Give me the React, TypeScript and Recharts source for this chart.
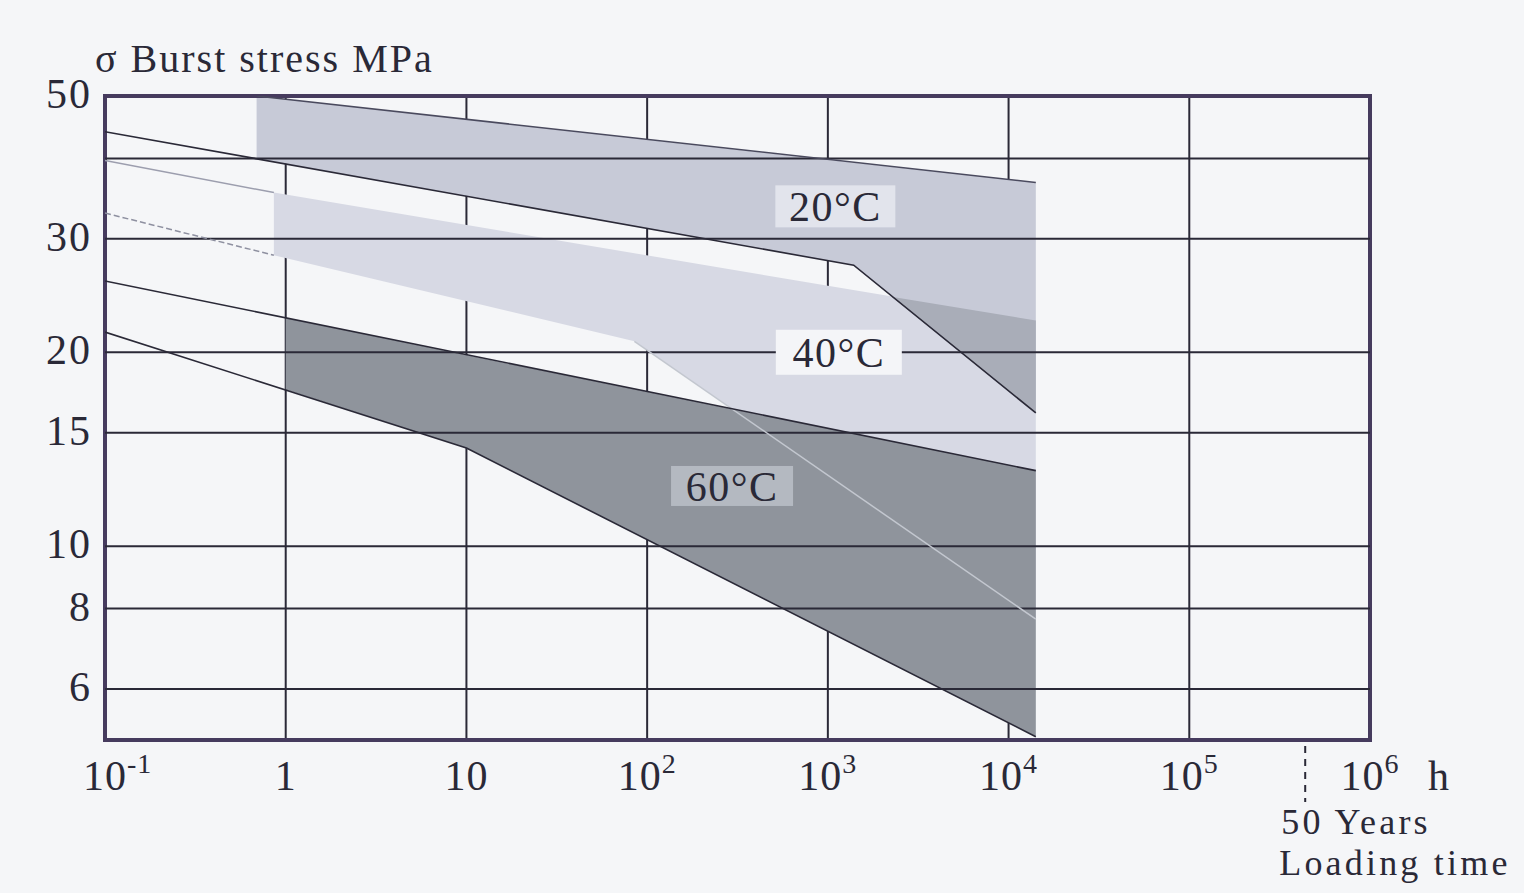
import React from 'react';
import {
  ComposedChart,
  Area,
  Line,
  XAxis,
  YAxis,
  CartesianGrid,
  ReferenceLine,
  ReferenceArea,
  ReferenceDot,
} from 'recharts';

// ---------- axes ----------
const xTicks = [0.1, 1, 10, 100, 1000, 10000, 100000, 438000, 1000000];
const xTickBase = ['10', '1', '10', '10', '10', '10', '10', '', '10'];
const xTickSup = ['-1', '', '', '2', '3', '4', '5', '', '6'];
const xUnit = 'h';
const fiftyYears = 438000;
const fiftyYearsText = ['50 Years', 'Loading time'];
const yTicks = [6, 8, 10, 15, 20, 30, 40, 50];
const yTickLabels = ['6', '8', '10', '15', '20', '30', '', '50'];
const verticalGrid = [1, 10, 100, 1000, 10000, 100000];
const horizontalGrid = [6, 8, 10, 15, 20, 30, 40];
const yTitle = 'σ Burst stress MPa';

// ---------- bands (loading time h, burst stress MPa) ----------
const band20T = [0.69, 1390, 14150];
const band20High = [50, 39.4, 36.7];
const band20Low = [40, 27.3, 16.1];

const band40T = [0.86, 85, 14150];
const band40High = [35.4, 28.5, 22.4];
const band40Low = [28.3, 20.8, 7.7];

const band60T = [1, 10, 14150];
const band60High = [22.6, 19.8, 13.1];
const band60Low = [17.5, 14.2, 5.06];

const overlapT = [2250, 14150];
const overlapHigh = [24.4, 22.4];
const overlapLow = [24.4, 16.1];

// ---------- edge lines ----------
const line20TopT = [0.69, 14150];
const line20TopV = [50, 36.7];
const line20BottomT = [0.1, 1390, 14150];
const line20BottomV = [44, 27.3, 16.1];
const ext40TopT = [0.1, 0.86];
const ext40TopV = [39.7, 35.4];
const ext40BottomT = [0.1, 0.86];
const ext40BottomV = [32.9, 28.3];
const line40SteepT = [85, 14150];
const line40SteepV = [20.8, 7.7];
const line60TopT = [0.1, 14150];
const line60TopV = [25.8, 13.1];
const line60BottomT = [0.1, 10, 14150];
const line60BottomV = [21.5, 14.2, 5.06];

// ---------- band labels ----------
const labelText = ['20°C', '40°C', '60°C'];
const labelT = [1100, 1150, 295];
const labelV = [33.7, 20.0, 12.4];

// ---------- styles ----------
const BG = '#f5f6f8';
const INK = '#2a2937';
const FRAME = '#463b5e';
const C20 = '#c7cad7';
const C40 = '#d7d9e4';
const COVER = '#a9adb8';
const C60 = '#8f949c';
const BOX_FILL = ['#e2e4ec', '#f4f5f8', '#b4b9c1'];
const BOX_W = [120, 126, 122];
const BOX_H = [42, 45, 40];
const FONT = '"Liberation Serif", "DejaVu Serif", serif';
const TICK_SIZE = 42;
const SUP_SIZE = 28;

const toBand = (t: number[], lo: number[], hi: number[]) =>
  t.map((v, i) => ({ t: v, range: [lo[i], hi[i]] }));
const toLine = (t: number[], v: number[]) => t.map((x, i) => ({ t: x, v: v[i] }));

const band20 = toBand(band20T, band20Low, band20High);
const band40 = toBand(band40T, band40Low, band40High);
const band60 = toBand(band60T, band60Low, band60High);
const overlap = toBand(overlapT, overlapLow, overlapHigh);

const line20Top = toLine(line20TopT, line20TopV);
const line20Bottom = toLine(line20BottomT, line20BottomV);
const ext40Top = toLine(ext40TopT, ext40TopV);
const ext40Bottom = toLine(ext40BottomT, ext40BottomV);
const line40Steep = toLine(line40SteepT, line40SteepV);
const line60Top = toLine(line60TopT, line60TopV);
const line60Bottom = toLine(line60BottomT, line60BottomV);

const XTick = (props: any) => {
  const { x, y, payload } = props;
  const i = xTicks.indexOf(payload.value);
  if (i < 0) return null;
  if (payload.value === fiftyYears) {
    return (
      <g>
        <line x1={x} x2={x} y1={y + 6} y2={y + 62} stroke={INK} strokeWidth={2} strokeDasharray="7 6" />
        <text x={x - 24} y={y + 94} fontFamily={FONT} fontSize={36} letterSpacing={3.2} fill={INK}>
          {fiftyYearsText[0]}
        </text>
        <text x={x - 26} y={y + 135} fontFamily={FONT} fontSize={36} letterSpacing={3.2} fill={INK}>
          {fiftyYearsText[1]}
        </text>
      </g>
    );
  }
  const first = i === 0;
  const sup = xTickSup[i];
  return (
    <g>
      <text
        x={first ? x - 22 : x}
        y={y + 50}
        textAnchor={first ? 'start' : 'middle'}
        fontFamily={FONT}
        fontSize={TICK_SIZE}
        letterSpacing={1}
        fill={INK}
      >
        <tspan>{xTickBase[i]}</tspan>
        {sup ? (
          <tspan dy={-17} fontSize={SUP_SIZE}>
            {sup}
          </tspan>
        ) : null}
      </text>
      {payload.value === 1000000 ? (
        <text x={x + 58} y={y + 50} fontFamily={FONT} fontSize={TICK_SIZE} fill={INK}>
          {xUnit}
        </text>
      ) : null}
    </g>
  );
};

const YTick = (props: any) => {
  const { x, y, payload } = props;
  const i = yTicks.indexOf(payload.value);
  const label = i >= 0 ? yTickLabels[i] : '';
  if (!label) return null;
  return (
    <text
      x={x}
      y={y - 2}
      textAnchor="end"
      dominantBaseline="central"
      fontFamily={FONT}
      fontSize={TICK_SIZE}
      letterSpacing={2}
      fill={INK}
    >
      {label}
    </text>
  );
};

const TitleContent = () => (
  <text x={95} y={72} fontFamily={FONT} fontSize={40} letterSpacing={2} fill={INK}>
    {yTitle}
  </text>
);

const makeBox = (k: number) => (p: any) => {
  const { cx, cy } = p;
  if (cx == null || cy == null) return <g />;
  return (
    <g>
      <rect x={cx - BOX_W[k] / 2} y={cy - BOX_H[k] / 2} width={BOX_W[k]} height={BOX_H[k]} fill={BOX_FILL[k]} />
      <text
        x={cx}
        y={cy + 1}
        textAnchor="middle"
        dominantBaseline="central"
        fontFamily={FONT}
        fontSize={42}
        letterSpacing={1.5}
        fill={INK}
      >
        {labelText[k]}
      </text>
    </g>
  );
};

export default function App() {
  return (
    <div style={{ position: 'absolute', left: 0, top: 0, width: 1524, height: 893, background: BG }}>
      <ComposedChart
        width={1524}
        height={893}
        margin={{ top: 96, right: 154, bottom: 33, left: 5 }}
      >
        <XAxis
          dataKey="t"
          type="number"
          scale="log"
          domain={[0.1, 1000000]}
          allowDataOverflow
          ticks={xTicks}
          interval={0}
          tick={<XTick />}
          tickLine={false}
          axisLine={false}
          tickSize={0}
          tickMargin={0}
          height={120}
        />
        <YAxis
          type="number"
          scale="log"
          domain={[5, 50]}
          allowDataOverflow
          ticks={yTicks}
          interval={0}
          tick={<YTick />}
          tickLine={false}
          axisLine={false}
          tickSize={0}
          tickMargin={13}
          width={100}
          label={{ content: TitleContent }}
        />
        <CartesianGrid
          horizontal={false}
          vertical
          verticalValues={verticalGrid}
          stroke={INK}
          strokeWidth={2}
          strokeOpacity={1}
        />
        <Area data={band40} dataKey="range" type="linear" fill={C40} fillOpacity={1} stroke="none" isAnimationActive={false} />
        <Area data={band20} dataKey="range" type="linear" fill={C20} fillOpacity={1} stroke="none" isAnimationActive={false} />
        <Area data={overlap} dataKey="range" type="linear" fill={COVER} fillOpacity={1} stroke="none" isAnimationActive={false} />
        <Area data={band60} dataKey="range" type="linear" fill={C60} fillOpacity={1} stroke="none" isAnimationActive={false} />
        {horizontalGrid.map((v) => (
          <ReferenceLine key={v} y={v} stroke={INK} strokeWidth={2} />
        ))}
        <Line data={line20Top} dataKey="v" type="linear" stroke="#4a4a5e" strokeWidth={1.5} dot={false} isAnimationActive={false} />
        <Line data={line20Bottom} dataKey="v" type="linear" stroke={INK} strokeWidth={1.6} dot={false} isAnimationActive={false} />
        <Line data={ext40Top} dataKey="v" type="linear" stroke="#9c9eae" strokeWidth={1.5} dot={false} isAnimationActive={false} />
        <Line data={ext40Bottom} dataKey="v" type="linear" stroke="#8e90a0" strokeWidth={1.5} strokeDasharray="6 3" dot={false} isAnimationActive={false} />
        <Line data={line40Steep} dataKey="v" type="linear" stroke="#c3c7cf" strokeWidth={1.5} dot={false} isAnimationActive={false} />
        <Line data={line60Top} dataKey="v" type="linear" stroke={INK} strokeWidth={1.6} dot={false} isAnimationActive={false} />
        <Line data={line60Bottom} dataKey="v" type="linear" stroke={INK} strokeWidth={1.6} dot={false} isAnimationActive={false} />
        <ReferenceArea x1={0.1} x2={1000000} y1={5} y2={50} fill="none" stroke={FRAME} strokeWidth={4} ifOverflow="visible" />
        {labelText.map((_, k) => (
          <ReferenceDot key={k} x={labelT[k]} y={labelV[k]} r={1} shape={makeBox(k)} />
        ))}
      </ComposedChart>
    </div>
  );
}
